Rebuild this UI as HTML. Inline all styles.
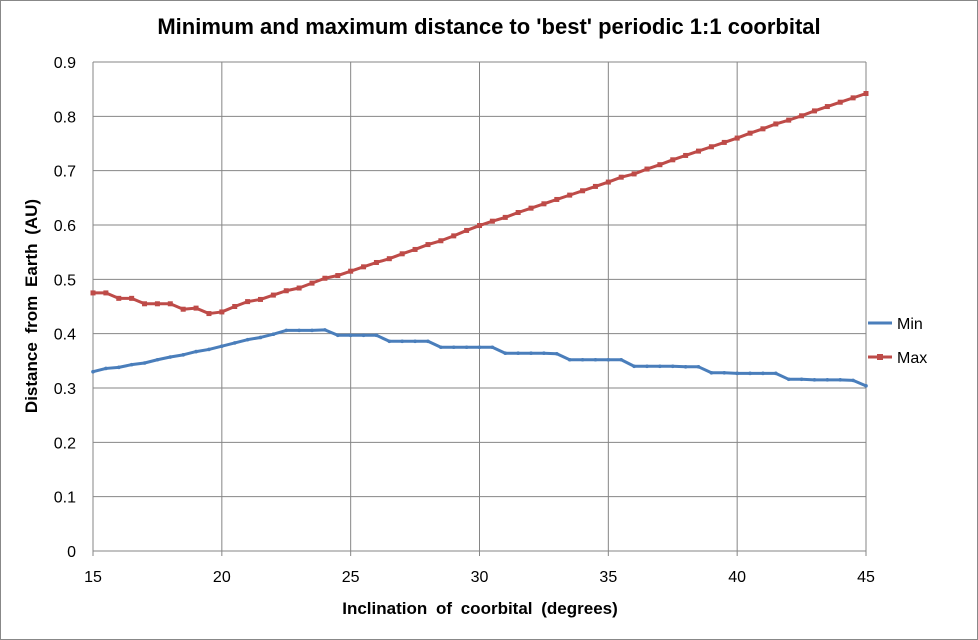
<!DOCTYPE html>
<html><head><meta charset="utf-8"><style>
body{margin:0;background:#fff;font-family:"Liberation Sans",sans-serif}
text{white-space:pre}
</style></head><body>
<svg id="c" width="978" height="640" style="display:block">
<rect x="0.5" y="0.5" width="977" height="639" fill="#fff" stroke="#888"/>
<text x="489" y="34" text-anchor="middle" font-size="22" font-weight="bold" fill="#000">Minimum and maximum distance to 'best' periodic 1:1 coorbital</text>
<text x="480" y="614" text-anchor="middle" font-size="17" font-weight="bold" word-spacing="4">Inclination of coorbital (degrees)</text>
<text transform="translate(37,306) rotate(-90)" text-anchor="middle" font-size="17" font-weight="bold" word-spacing="4">Distance from Earth (AU)</text>
<g id="grid"></g><g id="series"></g>
<g>
<line x1="868" y1="323" x2="892" y2="323" stroke="#4a7ebb" stroke-width="3"/>
<text x="897" y="329" font-size="16">Min</text>
<line x1="868" y1="357" x2="892" y2="357" stroke="#be4b48" stroke-width="3"/>
<rect x="877" y="354" width="6" height="6" fill="#be4b48"/>
<text x="897" y="363" font-size="16">Max</text>
</g>
</svg>
<script>
const xTicks=[15,20,25,30,35,40,45];
const yTicks=[0,0.1,0.2,0.3,0.4,0.5,0.6,0.7,0.8,0.9];
const inclinations=[15,15.5,16,16.5,17,17.5,18,18.5,19,19.5,20,20.5,21,21.5,22,22.5,23,23.5,24,24.5,25,25.5,26,26.5,27,27.5,28,28.5,29,29.5,30,30.5,31,31.5,32,32.5,33,33.5,34,34.5,35,35.5,36,36.5,37,37.5,38,38.5,39,39.5,40,40.5,41,41.5,42,42.5,43,43.5,44,44.5,45];
const minValues=[0.330,0.336,0.338,0.343,0.346,0.352,0.357,0.361,0.367,0.371,0.377,0.383,0.389,0.393,0.399,0.406,0.406,0.406,0.407,0.397,0.397,0.397,0.397,0.386,0.386,0.386,0.386,0.375,0.375,0.375,0.375,0.375,0.364,0.364,0.364,0.364,0.363,0.352,0.352,0.352,0.352,0.352,0.340,0.340,0.340,0.340,0.339,0.339,0.328,0.328,0.327,0.327,0.327,0.327,0.316,0.316,0.315,0.315,0.315,0.314,0.304];
const maxValues=[0.475,0.475,0.465,0.465,0.455,0.455,0.455,0.445,0.447,0.437,0.440,0.450,0.459,0.463,0.471,0.479,0.484,0.493,0.502,0.507,0.515,0.523,0.531,0.538,0.547,0.555,0.564,0.571,0.580,0.590,0.599,0.607,0.614,0.623,0.631,0.639,0.647,0.655,0.663,0.671,0.679,0.688,0.694,0.703,0.711,0.720,0.728,0.736,0.744,0.752,0.760,0.769,0.777,0.786,0.793,0.801,0.810,0.818,0.826,0.834,0.842];
const X0=93,X1=866,Y0=551,Y1=62;
const sx=v=>X0+(v-15)/30*(X1-X0);
const sy=v=>Y0-v/0.9*(Y0-Y1);
const NS='http://www.w3.org/2000/svg';
function mk(t,a,p){const e=document.createElementNS(NS,t);for(const k in a)e.setAttribute(k,a[k]);p.appendChild(e);return e;}
const g=document.getElementById('grid');
yTicks.forEach(v=>{const y=sy(v);
const l=mk('line',{x1:X0,x2:X1,y1:y,y2:y,stroke:'#868686','stroke-width':1},g);


const t=mk('text',{x:76,y:y+6,'text-anchor':'end','font-size':16},g);t.textContent=String(v);

});
xTicks.forEach(v=>{const x=sx(v);
const l=mk('line',{x1:x,x2:x,y1:Y1,y2:Y0+5,stroke:'#868686','stroke-width':1},g);


const t=mk('text',{x:x,y:582,'text-anchor':'middle','font-size':16},g);t.textContent=String(v);

});
const s=document.getElementById('series');
function line(vals,col,name,sq){
const pts=inclinations.map((x,i)=>sx(x)+','+sy(vals[i])).join(' ');
const p=mk('polyline',{points:pts,fill:'none',stroke:col,'stroke-width':3,'stroke-linejoin':'round'},s);


inclinations.forEach((x,i)=>{let m;
if(sq)m=mk('rect',{x:sx(x)-2.5,y:sy(vals[i])-2.5,width:5,height:5,fill:col},s);
else m=mk('circle',{cx:sx(x),cy:sy(vals[i]),r:1.8,fill:col},s);

});}
line(minValues,'#4a7ebb','min',false);
line(maxValues,'#be4b48','max',true);
</script>
</body></html>
